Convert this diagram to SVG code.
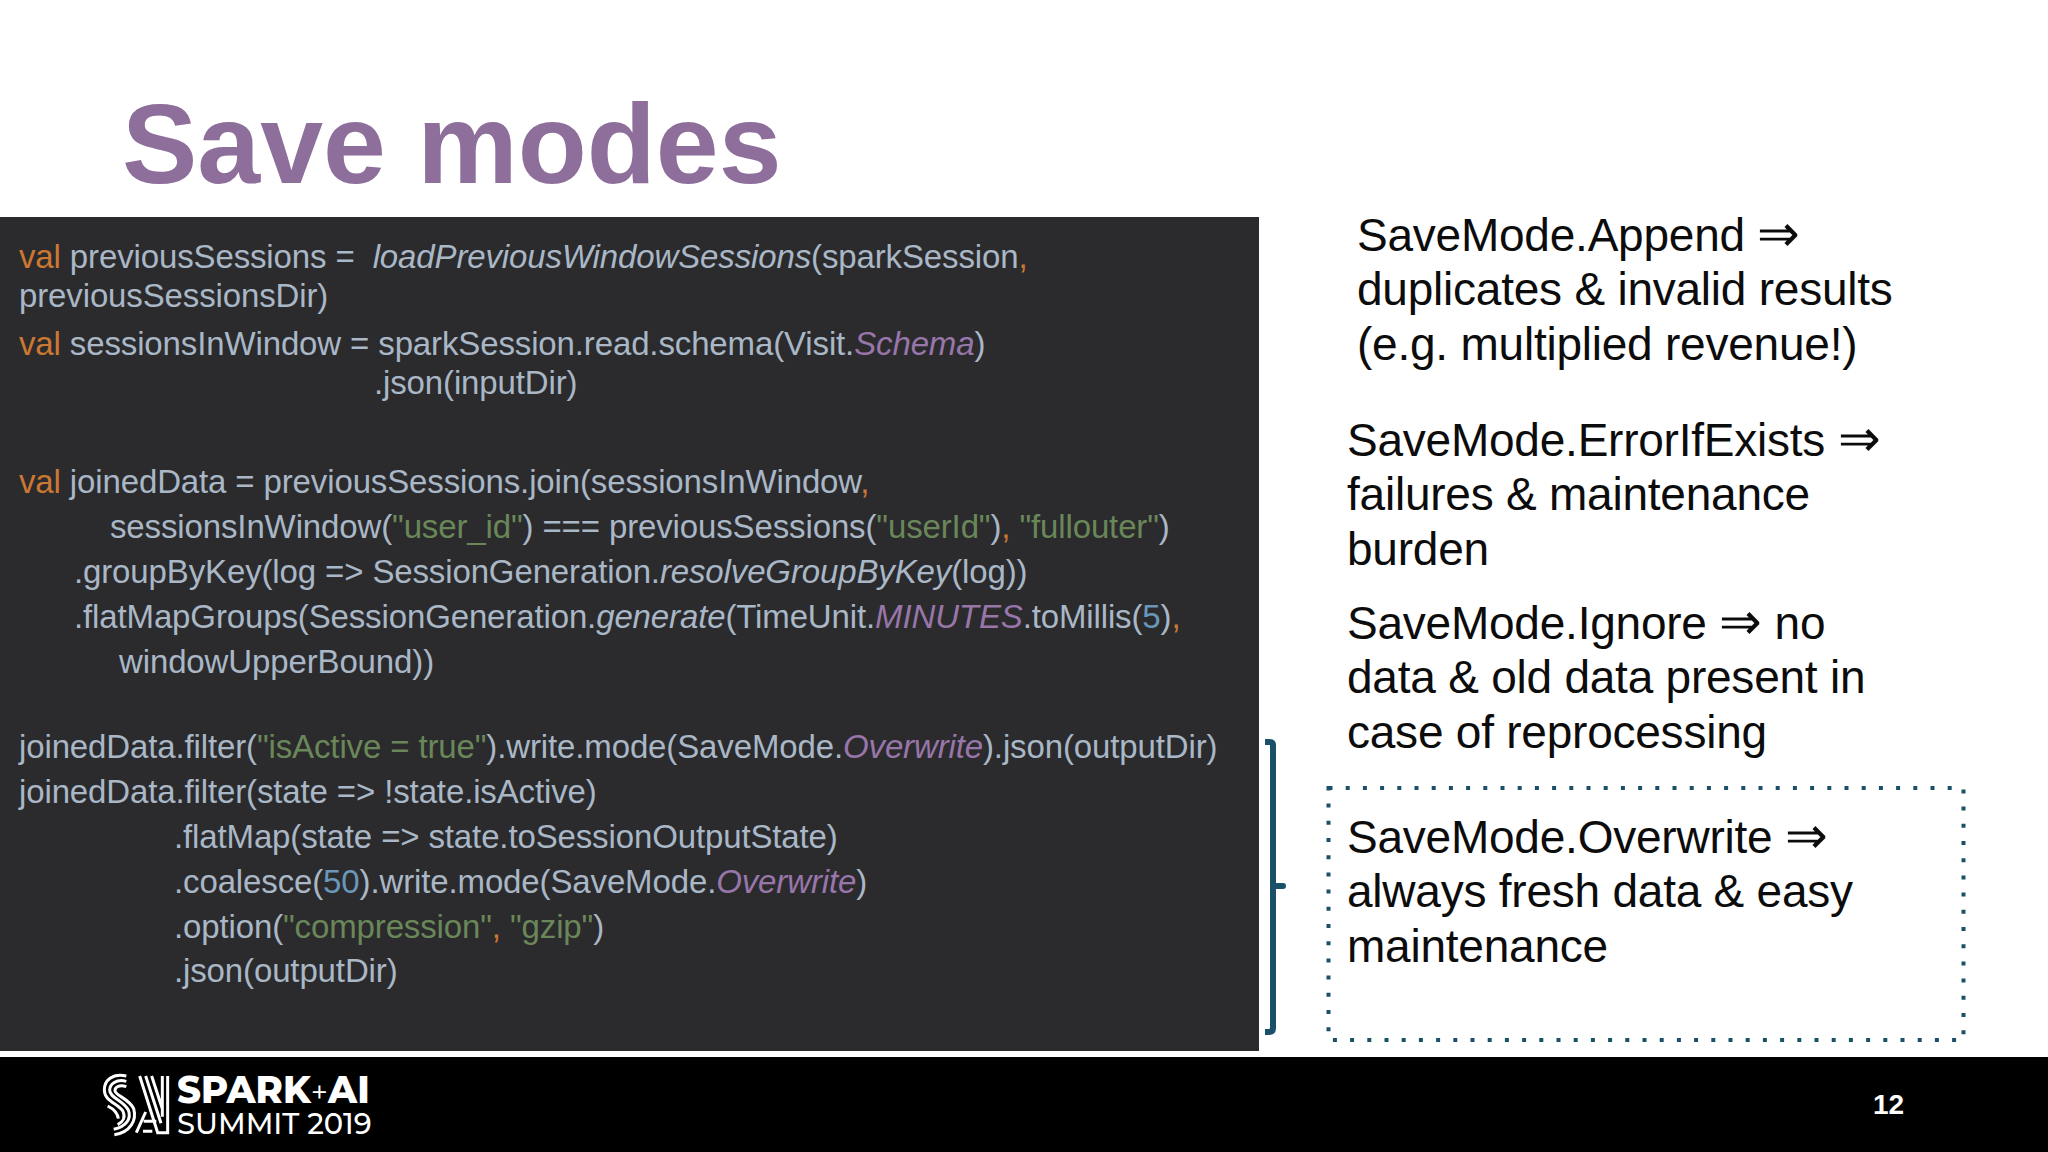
<svg xmlns="http://www.w3.org/2000/svg" width="2048" height="1152" viewBox="0 0 2048 1152">
<style>
.c{font:33px "Liberation Sans",Arial,sans-serif;fill:#a9b7c6;letter-spacing:-.13px;white-space:pre}
.k{fill:#cc7832}.s{fill:#6a8759}.n{fill:#6897bb}.p{fill:#9876aa;font-style:italic}.i{font-style:italic}
.r{font:46px "Liberation Sans",Arial,sans-serif;fill:#0c0c0c;letter-spacing:-.23px}
.a{font-size:51px}
.l{font-family:Montserrat,"Open Sans","Liberation Sans",sans-serif;fill:#fff}
</style>
<rect width="2048" height="1152" fill="#fff"/>
<text id="title" x="122" y="183" font-family="'Liberation Sans',Arial,sans-serif" font-weight="700" font-size="113" fill="#8e6e9a">Save modes</text>
<g id="code">
<rect x="0" y="217" width="1259" height="834" fill="#2b2b2d"/>
<text class="c" x="19" y="268"><tspan class="k">val</tspan> previousSessions =  <tspan class="i">loadPreviousWindowSessions</tspan>(sparkSession<tspan class="k">,</tspan></text>
<text class="c" x="19" y="307">previousSessionsDir)</text>
<text class="c" x="19" y="355"><tspan class="k">val</tspan> sessionsInWindow = sparkSession.read.schema(Visit.<tspan class="p">Schema</tspan>)</text>
<text class="c" x="374" y="394">.json(inputDir)</text>
<text class="c" x="19" y="493"><tspan class="k">val</tspan> joinedData = previousSessions.join(sessionsInWindow<tspan class="k">,</tspan></text>
<text class="c" x="110" y="538">sessionsInWindow(<tspan class="s">"user_id"</tspan>) === previousSessions(<tspan class="s">"userId"</tspan>)<tspan class="k">,</tspan> <tspan class="s">"fullouter"</tspan>)</text>
<text class="c" x="74" y="583">.groupByKey(log => SessionGeneration.<tspan class="i">resolveGroupByKey</tspan>(log))</text>
<text class="c" x="74" y="628">.flatMapGroups(SessionGeneration.<tspan class="i">generate</tspan>(TimeUnit.<tspan class="p">MINUTES</tspan>.toMillis(<tspan class="n">5</tspan>)<tspan class="k">,</tspan></text>
<text class="c" x="119" y="673">windowUpperBound))</text>
<text class="c" x="19" y="758">joinedData.filter(<tspan class="s">"isActive = true"</tspan>).write.mode(SaveMode.<tspan class="p">Overwrite</tspan>).json(outputDir)</text>
<text class="c" x="19" y="803">joinedData.filter(state => !state.isActive)</text>
<text class="c" x="174" y="848">.flatMap(state => state.toSessionOutputState)</text>
<text class="c" x="174" y="893">.coalesce(<tspan class="n">50</tspan>).write.mode(SaveMode.<tspan class="p">Overwrite</tspan>)</text>
<text class="c" x="174" y="938">.option(<tspan class="s">"compression"</tspan><tspan class="k">,</tspan> <tspan class="s">"gzip"</tspan>)</text>
<text class="c" x="174" y="982">.json(outputDir)</text>
</g>
<g id="notes">
<text class="r" x="1357" y="251">SaveMode.Append <tspan class="a">⇒</tspan></text>
<text class="r" x="1357" y="305">duplicates &amp; invalid results</text>
<text class="r" x="1357" y="360">(e.g. multiplied revenue!)</text>
<text class="r" x="1347" y="456">SaveMode.ErrorIfExists <tspan class="a">⇒</tspan></text>
<text class="r" x="1347" y="510">failures &amp; maintenance</text>
<text class="r" x="1347" y="565">burden</text>
<text class="r" x="1347" y="639">SaveMode.Ignore <tspan class="a">⇒</tspan> no</text>
<text class="r" x="1347" y="693">data &amp; old data present in</text>
<text class="r" x="1347" y="748">case of reprocessing</text>
<text class="r" x="1347" y="853">SaveMode.Overwrite <tspan class="a">⇒</tspan></text>
<text class="r" x="1347" y="907">always fresh data &amp; easy</text>
<text class="r" x="1347" y="962">maintenance</text>
</g>
<g id="connectors" fill="none" stroke="#1a5068">
<rect x="1328.500" y="788" width="635" height="252" stroke-width="4" stroke-dasharray="4 13.200"/>
<path d="M1265 742H1269Q1273 742 1273 745V1028Q1273 1032 1269 1032H1265" stroke-width="6"/>
<path d="M1273 886H1283" stroke-width="6" stroke-linecap="round"/>
</g>
<g id="footer">
<rect y="1057" width="2048" height="95" fill="#000"/>
<g fill="none" stroke="#fff" stroke-width="9" transform="translate(95 1070) scale(.3333)">
<path d="M94 18C52 8 28 32 28 60C28 94 70 100 84 124C92 142 84 156 68 164"/>
<path d="M94 34C64 26 44 42 44 60C44 84 84 90 100 120C110 146 94 170 56 178"/>
<path d="M94 50C74 44 60 50 60 62C60 76 102 86 116 116C126 150 106 188 58 194"/>
<path d="M38 108C54 116 68 128 70 146"/>
<path d="M134 18L188 188H218V18M152 18L198 160M170 18L202 116M202 18V140M146 154H184M124 188L152 126M144 184H172"/>
</g>
<text class="l" x="177" y="1103" font-size="37" font-weight="800">SPARK<tspan font-weight="400" font-size="30">+</tspan>AI</text>
<text class="l" x="177" y="1134" font-size="29" font-weight="500">SUMMIT 2019</text>
<text class="l" x="1873" y="1114" font-size="28" font-weight="700" style="font-family:'Liberation Sans',sans-serif">12</text>
</g>
</svg>
